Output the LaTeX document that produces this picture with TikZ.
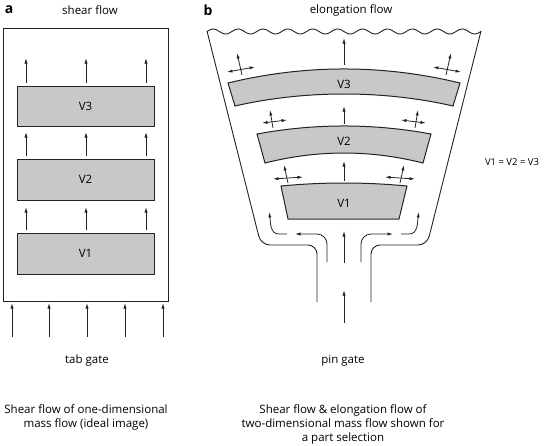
\documentclass[tikz,border=0pt]{standalone}
\usepackage{fontspec}
\setmainfont{Open Sans}
\usetikzlibrary{arrows.meta}
\definecolor{boxgray}{RGB}{200,200,200}
\definecolor{linegray}{RGB}{35,35,35}
\begin{document}
\begin{tikzpicture}[x=1pt,y=-1pt,
  txt/.style={inner sep=0pt, font=\fontsize{11.5}{14}\selectfont},
  smalltxt/.style={inner sep=0pt, font=\fontsize{9.5}{12}\selectfont},
  lbl/.style={inner sep=0pt, font=\fontsize{14}{15}\selectfont\bfseries},
  partbox/.style={draw=linegray, fill=boxgray, line width=1pt},
  flow/.style={-{Latex[length=5.5pt,width=3.2pt]}, line width=0.8pt, draw=linegray},
  dflow/.style={{Latex[length=5.5pt,width=3.2pt]}-{Latex[length=5.5pt,width=3.2pt]}, line width=0.8pt, draw=linegray},
  wall/.style={line width=0.9pt, draw=linegray}]
\useasboundingbox (0,0) rectangle (544,445);

% ---------- panel a ----------
\node[lbl] (la) at (9,10) {a};
\node[txt] (sf) at (90,10) {shear flow};
\draw[wall] (3,28) rectangle (168,301);
\node[partbox, minimum width=137pt, minimum height=40pt, txt] (a3) at (85.5,106) {V3};
\node[partbox, minimum width=137pt, minimum height=41pt, txt] (a2) at (85.5,179.5) {V2};
\node[partbox, minimum width=137pt, minimum height=41pt, txt] (a1) at (85.5,253.5) {V1};
\foreach \x in {26,86,146}{
  \draw[flow] (\x,83) -- (\x,58);
  \draw[flow] (\x,156) -- (\x,132);
  \draw[flow] (\x,230) -- (\x,207);
}
\foreach \x in {12,49,87,125,163}{
  \draw[flow] (\x,337) -- (\x,303);
}
\node[txt] (tg) at (87,361) {tab gate};
\node[txt, align=center] (capa) at (86,417) {Shear flow of one-dimensional\\mass flow (ideal image)};

% ---------- panel b ----------
\node[lbl] (lb) at (208,10) {b};
\node[txt] (ef) at (351,10) {elongation flow};
\draw[wall] plot[domain=0:274, samples=160] ({207+\x},{31.5-2.5*sin(\x/24.9*360)});
\draw[wall, rounded corners=9pt] (207,31) -- (261,245) -- (317,245) -- (317,302);
\draw[wall, rounded corners=9pt] (481,31) -- (427,245) -- (371,245) -- (371,302);

% V3
\draw[partbox] (228,83) .. controls (305,64.3) and (383,64.3) .. (460,83)
  -- (453,106) .. controls (383,90) and (305,90) .. (235,106) -- cycle;
\node[txt] (v3) at (344,84) {V3};
% V2
\draw[partbox] (257,134) .. controls (315,123.3) and (373,123.3) .. (431,134)
  -- (423,163) .. controls (370,149.7) and (318,149.7) .. (265,163) -- cycle;
\node[txt] (v2) at (344,141) {V2};
% V1
\draw[partbox] (281,186) .. controls (323,182) and (365,182) .. (407,186)
  -- (399,219) -- (288,219) -- cycle;
\node[txt] (v1) at (344,203) {V1};

% central arrows
\draw[flow] (344,65) -- (344,38);
\draw[flow] (344,124) -- (344,106);
\draw[flow] (344,181) -- (344,161);
\draw[flow] (344,263) -- (344,231);
\draw[flow] (344,323) -- (344,290);

% crossed arrows (left and mirrored right)
\foreach \vx/\vy/\ux/\uy/\hx/\hy/\kx/\ky in {
  242/75/237/53/227/72/255/67,
  273/128/270/110/262/123/287/120,
  288/183/284/165/273/179/303/177}{
  \draw[flow] (\vx,\vy) -- (\ux,\uy);
  \draw[dflow] (\hx,\hy) -- (\kx,\ky);
  \draw[flow] ({688-\vx},\vy) -- ({688-\ux},\uy);
  \draw[dflow] ({688-\hx},\hy) -- ({688-\kx},\ky);
}

% curved flow arrows
\draw[flow, rounded corners=10pt] (327,262) |- (295,234);
\draw[flow] (287,234) -- (279,234) to[out=180,in=-80] (269,212);
\draw[flow, rounded corners=10pt] (361,262) |- (393,234);
\draw[flow] (401,234) -- (409,234) to[out=0,in=-100] (419,212);

\node[txt] (pg) at (343,361) {pin gate};
\node[txt, align=center] (capb) at (343,424) {Shear flow \& elongation flow of\\two-dimensional mass flow shown for\\a part selection};
\node[smalltxt] (eq) at (512,162) {V1 = V2 = V3};
\end{tikzpicture}
\end{document}
